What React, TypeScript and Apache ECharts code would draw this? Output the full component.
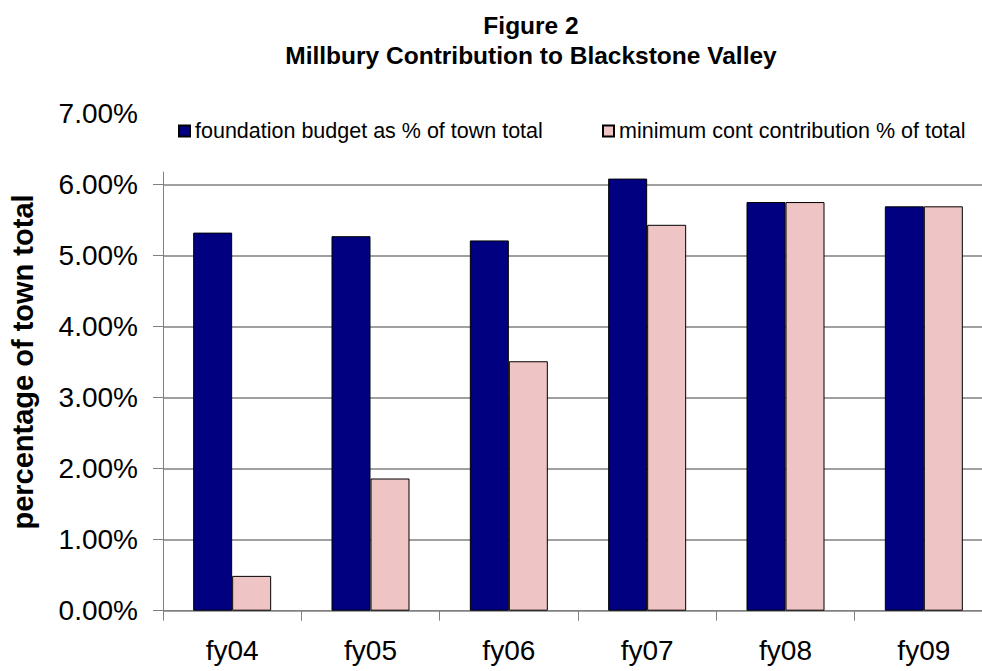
import React, { useEffect, useRef } from "react";
import * as echarts from "echarts";

const categories = ["fy04", "fy05", "fy06", "fy07", "fy08", "fy09"];
const foundationBudget = [5.32, 5.27, 5.21, 6.08, 5.75, 5.69];
const minimumContribution = [0.49, 1.86, 3.51, 5.43, 5.75, 5.69];
const yTicks = [0, 1, 2, 3, 4, 5, 6];
const topTick = 7;
const seriesNames = [
  "foundation budget as % of town total",
  "minimum cont contribution % of total",
];

const fmt = (v: number) => v.toFixed(2) + "%";
const FONT = "'Liberation Sans', Arial, sans-serif";

export default function App() {
  const ref = useRef<HTMLDivElement>(null);
  useEffect(() => {
    if (!ref.current) return;
    const chart = echarts.init(ref.current, undefined, { renderer: "svg" });
    const gray = "#808080";
    const legendText = { fontFamily: FONT, fontSize: 21.5, color: "#000" };
    chart.setOption({
      animation: false,
      backgroundColor: "#ffffff",
      textStyle: { fontFamily: FONT },
      title: {
        text: "Figure 2\nMillbury Contribution to Blackstone Valley",
        left: 526,
        top: 5,
        textAlign: "center",
        textStyle: {
          fontFamily: FONT,
          fontWeight: "bold",
          fontSize: 24.5,
          lineHeight: 30,
          color: "#000",
        },
      },
      legend: [
        {
          left: 173,
          top: 115,
          itemWidth: 11,
          itemHeight: 11,
          itemGap: 10,
          icon: "rect",
          textStyle: legendText,
          data: [seriesNames[0]],
        },
        {
          left: 597,
          top: 115,
          itemWidth: 11,
          itemHeight: 11,
          itemGap: 10,
          icon: "rect",
          textStyle: legendText,
          data: [seriesNames[1]],
        },
      ],
      grid: [
        { left: 163, right: -11, top: 172, bottom: 60.3, outerBoundsMode: "none", containLabel: false },
        { left: 163, right: -11, top: 113.3, bottom: 60.3, outerBoundsMode: "none", containLabel: false },
      ],
      xAxis: [
        {
          type: "category",
          data: categories,
          gridIndex: 0,
          axisLine: { lineStyle: { color: gray, width: 1 } },
          axisTick: { show: true, length: 10, lineStyle: { color: gray } },
          axisLabel: { color: "#000", fontSize: 28, margin: 26, fontFamily: FONT },
        },
        { type: "category", data: categories, gridIndex: 1, show: false },
      ],
      yAxis: [
        {
          type: "value",
          gridIndex: 0,
          min: 0,
          max: 6.173,
          interval: 1,
          axisLine: { show: true, lineStyle: { color: gray } },
          axisTick: { show: true, length: 10, customValues: yTicks, lineStyle: { color: gray } },
          axisLabel: {
            customValues: yTicks,
            formatter: (v: number) => fmt(v),
            color: "#000",
            fontSize: 28,
            margin: 25,
            fontFamily: FONT,
          },
          splitLine: {
            show: true,
            lineStyle: {
              color: [gray, gray, gray, gray, gray, gray, gray, "rgba(0,0,0,0)"],
              width: 1.5,
            },
          },
        },
        {
          type: "value",
          gridIndex: 1,
          min: 0,
          max: topTick,
          interval: 1,
          axisLine: { show: false },
          axisTick: { show: false },
          splitLine: { show: false },
          axisLabel: {
            formatter: (v: number) => (v === topTick ? fmt(v) : ""),
            color: "#000",
            fontSize: 28,
            margin: 25,
            fontFamily: FONT,
          },
          name: "percentage of town total",
          nameLocation: "middle",
          nameGap: 126,
          nameTextStyle: { fontFamily: FONT, fontWeight: "bold", fontSize: 29, color: "#000" },
        },
      ],
      series: [
        {
          name: seriesNames[0],
          type: "bar",
          xAxisIndex: 0,
          yAxisIndex: 0,
          data: foundationBudget,
          barWidth: 39,
          barGap: "0%",
          itemStyle: { color: "#000080", borderColor: "#000", borderWidth: 1 },
        },
        {
          name: seriesNames[1],
          type: "bar",
          xAxisIndex: 0,
          yAxisIndex: 0,
          data: minimumContribution,
          barWidth: 39,
          barGap: "0%",
          itemStyle: { color: "#EFC4C4", borderColor: "#000", borderWidth: 1 },
        },
      ],
    });
    return () => chart.dispose();
  }, []);
  return (
    <div
      ref={ref}
      style={{ position: "absolute", left: 0, top: 0, width: 982, height: 671 }}
    />
  );
}
